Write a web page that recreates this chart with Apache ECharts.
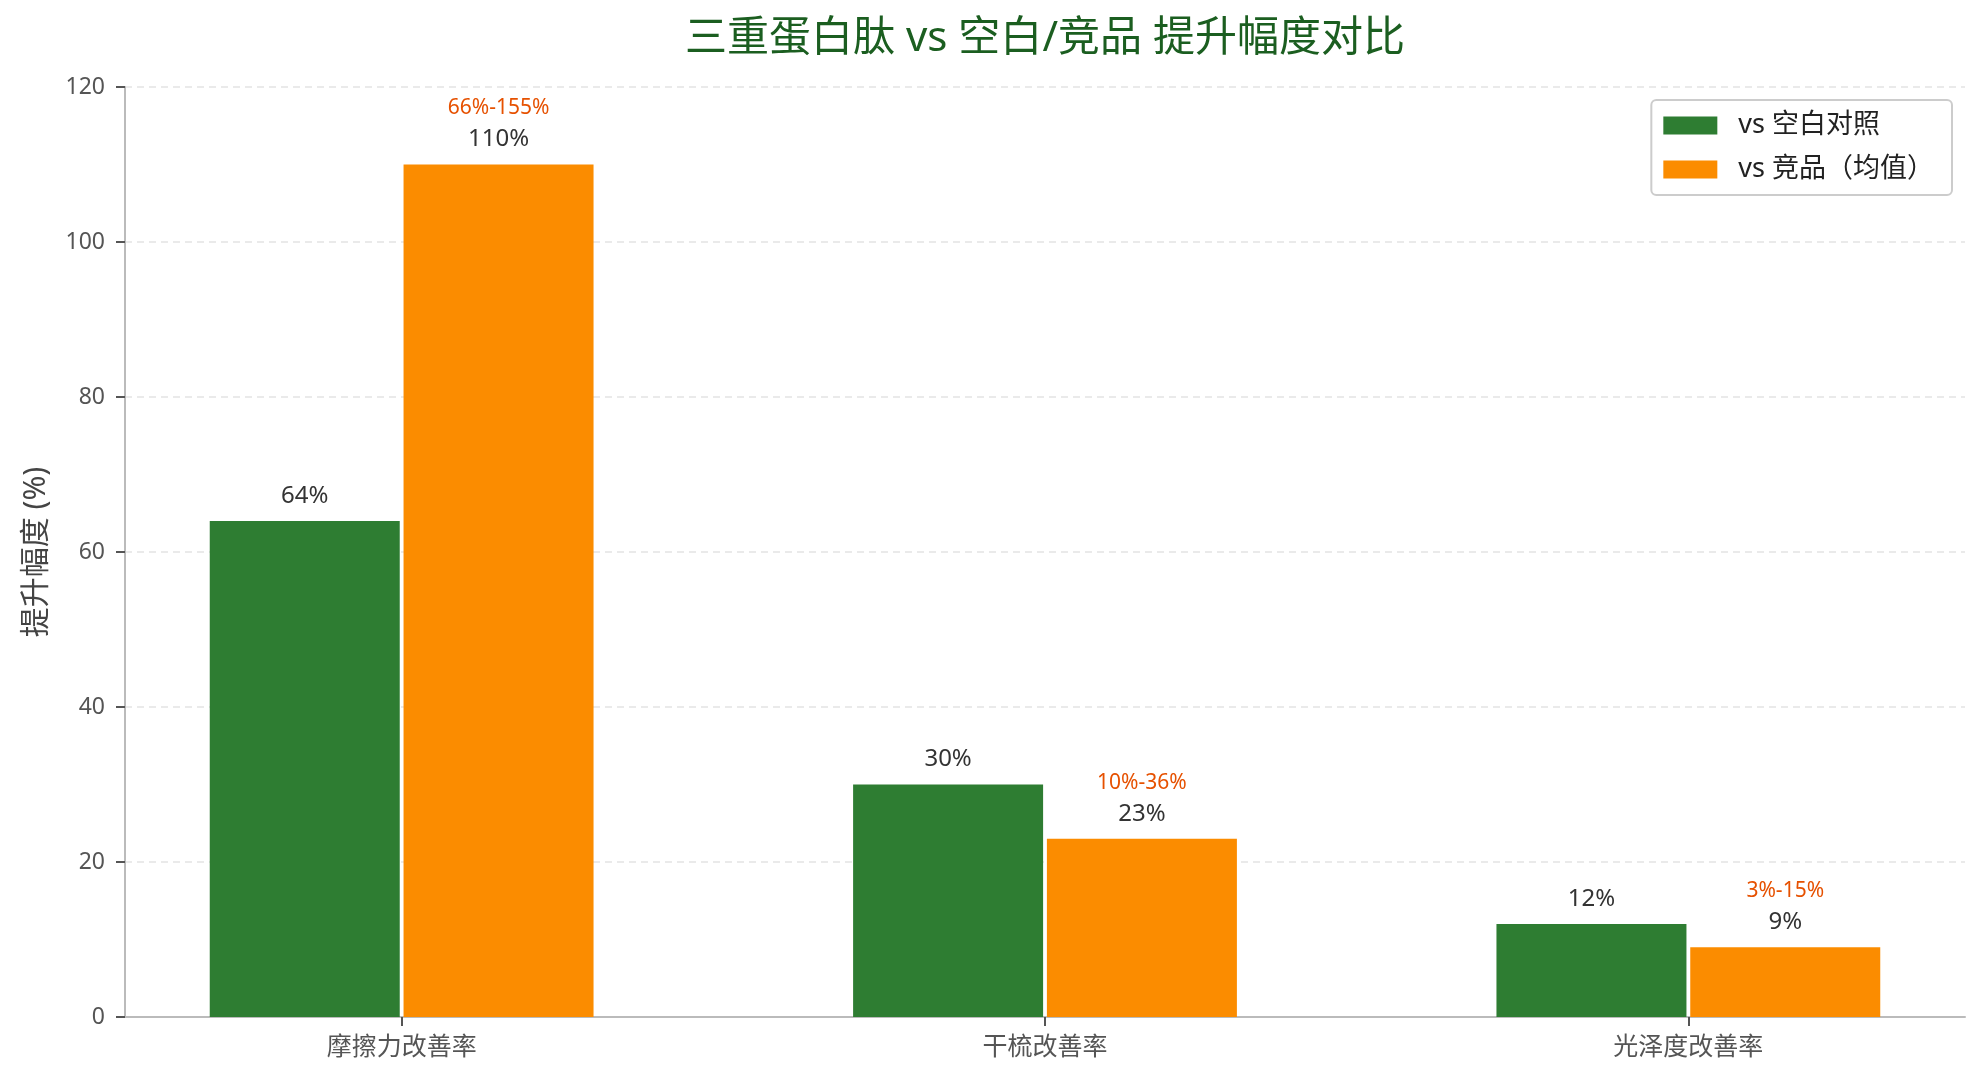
<!DOCTYPE html>
<html>
<head>
<meta charset="utf-8">
<script src="https://cdn.jsdelivr.net/npm/echarts@6/dist/echarts.min.js"></script>
<style>
  html, body { margin: 0; padding: 0; background: #fff; }
  #chart { width: 1985px; height: 1083px; }
</style>
</head>
<body>
<div id="chart"></div>
<script>
// data
var categories = ["摩擦力改善率", "干梳改善率", "光泽度改善率"];
var vsBlank = [64, 30, 12];
var vsRival = [110, 23, 9];
var rivalRange = ["66%-155%", "10%-36%", "3%-15%"];
var seriesNames = ["vs 空白对照", "vs 竞品（均值）"];

var FONT = "'Noto Sans', 'Noto Sans CJK SC', sans-serif";

var dom = document.getElementById("chart");
var myChart = echarts.init(dom);
var option;

function toPoints(arr) {
  return arr.map(function (v, i) { return [i, v]; });
}

option = {
  backgroundColor: "#fff",
  animation: false,
  textStyle: { fontFamily: FONT },
  title: {
    text: "三重蛋白肽 vs 空白/竞品 提升幅度对比",
    left: 1045,
    textAlign: "center",
    top: 18,
    padding: 0,
    textStyle: { fontFamily: FONT, fontSize: 42, fontWeight: "normal", color: "#1b5e20" }
  },
  legend: {
    orient: "vertical",
    right: 33,
    top: 100,
    padding: [12, 18, 12, 12],
    itemGap: 17,
    itemWidth: 54,
    itemHeight: 18,
    borderColor: "#cccccc",
    borderWidth: 2,
    borderRadius: 5,
    icon: "rect",
    textStyle: { fontFamily: FONT, fontSize: 27, color: "#222", padding: [0, 0, 0, 16] },
    data: seriesNames
  },
  grid: { left: 125, right: 20, top: 87, bottom: 66 },
  xAxis: {
    type: "value",
    min: -0.43,
    max: 2.43,
    axisLine: { show: true, onZero: false, lineStyle: { color: "#bbbbbb", width: 2 } },
    axisTick: { show: true, customValues: [0, 1, 2], length: 9, lineStyle: { color: "#555", width: 2 } },
    axisLabel: {
      customValues: [0, 1, 2],
      formatter: function (v) { return categories[Math.round(v)]; },
      fontFamily: FONT, fontSize: 25, color: "#555", margin: 18
    },
    splitLine: { show: false }
  },
  yAxis: {
    type: "value",
    min: 0,
    max: 120,
    interval: 20,
    name: "提升幅度 (%)",
    nameLocation: "middle",
    nameGap: 74,
    nameTextStyle: { fontFamily: FONT, fontSize: 30, color: "#444" },
    axisLine: { show: true, onZero: false, lineStyle: { color: "#bbbbbb", width: 2 } },
    axisTick: { show: true, inside: false, length: 9, lineStyle: { color: "#555", width: 2 } },
    axisLabel: { fontFamily: FONT, fontSize: 23, color: "#555", margin: 20 },
    splitLine: { show: true, lineStyle: { color: "#e3e3e3", type: [7, 5], width: 1.5 } }
  },
  series: [
    {
      name: seriesNames[0],
      type: "bar",
      data: toPoints(vsBlank),
      barWidth: 190,
      barGap: "2%",
      itemStyle: { color: "#2e7d32" },
      label: {
        show: true,
        position: "top",
        distance: 8,
        lineHeight: 34,
        formatter: function (p) { return p.value[1] + "%"; },
        fontFamily: FONT, fontSize: 24, color: "#333"
      }
    },
    {
      name: seriesNames[1],
      type: "bar",
      data: toPoints(vsRival),
      barWidth: 190,
      barGap: "2%",
      itemStyle: { color: "#fb8c00" },
      label: {
        show: true,
        position: "top",
        distance: 8,
        formatter: function (p) {
          return "{r|" + rivalRange[p.dataIndex] + "}\n{v|" + p.value[1] + "%}";
        },
        rich: {
          r: { fontFamily: FONT, fontSize: 21, color: "#e65100", lineHeight: 28, align: "center" },
          v: { fontFamily: FONT, fontSize: 24, color: "#333", lineHeight: 34, align: "center" }
        }
      }
    }
  ]
};

if (option && typeof option === "object") {
  myChart.setOption(option);
}
</script>
</body>
</html>
